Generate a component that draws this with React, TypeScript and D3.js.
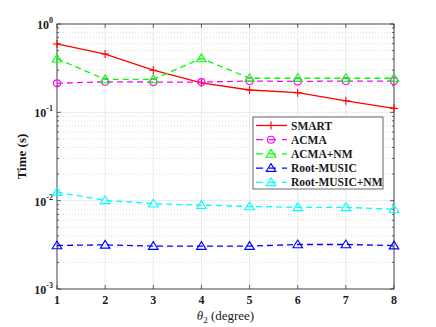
import React, { useEffect, useRef } from "react";
import * as d3 from "d3";

const angles = [1, 2, 3, 4, 5, 6, 7, 8];
const smart = [0.594, 0.457, 0.3, 0.216, 0.179, 0.167, 0.135, 0.111];
const acma = [0.213, 0.222, 0.22, 0.22, 0.226, 0.224, 0.226, 0.226];
const acmaNm = [0.405, 0.236, 0.236, 0.408, 0.243, 0.243, 0.243, 0.243];
const rootMusic = [0.00311, 0.00316, 0.00306, 0.00306, 0.00306, 0.00319, 0.00319, 0.0031];
const rootMusicNm = [0.0125, 0.0101, 0.00923, 0.0089, 0.0086, 0.0084, 0.0084, 0.008];
const seriesNames = ["SMART", "ACMA", "ACMA+NM", "Root-MUSIC", "Root-MUSIC+NM"];
const decades = [-3, -2, -1, 0];

export default function App() {
  const ref = useRef<SVGSVGElement>(null);

  useEffect(() => {
    const width = 436;
    const height = 327;
    const margin = { top: 24, right: 42, bottom: 38, left: 57 };
    const font = "'Liberation Serif', 'Times New Roman', serif";
    const axisColor = "#262626";

    const svg = d3.select(ref.current).attr("viewBox", [0, 0, width, height]);
    svg.selectAll("*").remove();

    const x = d3.scaleLinear()
      .domain([1, 8])
      .range([margin.left, width - margin.right]);
    const y = d3.scaleLog()
      .domain([1e-3, 1])
      .range([height - margin.bottom, margin.top]);

    const [x0, x1] = x.range();
    const [yb, yt] = y.range();

    svg.append("rect").attr("x", x0).attr("y", yt)
      .attr("width", x1 - x0).attr("height", yb - yt).attr("fill", "#fff");

    // minor grid (dotted)
    const minors: number[] = [];
    decades.slice(0, 3).forEach(e => {
      for (let k = 2; k <= 9; k++) minors.push(k * Math.pow(10, e));
    });
    const grid = svg.append("g");
    grid.selectAll(".minor").data(minors).join("line")
      .attr("x1", x0).attr("x2", x1)
      .attr("y1", d => y(d)).attr("y2", d => y(d))
      .attr("stroke", "#c8c8c8").attr("stroke-width", 0.6)
      .attr("stroke-dasharray", "1,2");
    // major grid
    grid.selectAll(".majy").data(decades.map(e => Math.pow(10, e))).join("line")
      .attr("x1", x0).attr("x2", x1)
      .attr("y1", d => y(d)).attr("y2", d => y(d))
      .attr("stroke", "#e3e3e3").attr("stroke-width", 0.8);
    svg.append("g").selectAll("line").data(angles).join("line")
      .attr("x1", d => x(d)).attr("x2", d => x(d))
      .attr("y1", yt).attr("y2", yb)
      .attr("stroke", "#e3e3e3").attr("stroke-width", 0.8);

    // axes box
    svg.append("rect").attr("x", x0).attr("y", yt)
      .attr("width", x1 - x0).attr("height", yb - yt)
      .attr("fill", "none").attr("stroke", axisColor).attr("stroke-width", 0.8);

    const ticks = svg.append("g").attr("stroke", axisColor).attr("stroke-width", 0.7);
    angles.forEach(a => {
      ticks.append("line").attr("x1", x(a)).attr("x2", x(a)).attr("y1", yb).attr("y2", yb - 4);
      ticks.append("line").attr("x1", x(a)).attr("x2", x(a)).attr("y1", yt).attr("y2", yt + 4);
    });
    decades.forEach(e => {
      const v = y(Math.pow(10, e));
      ticks.append("line").attr("x1", x0).attr("x2", x0 + 4).attr("y1", v).attr("y2", v);
      ticks.append("line").attr("x1", x1).attr("x2", x1 - 4).attr("y1", v).attr("y2", v);
    });
    minors.forEach(m => {
      const v = y(m);
      ticks.append("line").attr("x1", x0).attr("x2", x0 + 2).attr("y1", v).attr("y2", v);
      ticks.append("line").attr("x1", x1).attr("x2", x1 - 2).attr("y1", v).attr("y2", v);
    });

    // tick labels
    svg.append("g").selectAll("text").data(angles).join("text")
      .attr("x", d => x(d)).attr("y", yb + 15)
      .attr("text-anchor", "middle")
      .attr("font-family", font).attr("font-weight", "bold").attr("font-size", 12)
      .attr("fill", "#1a1a1a")
      .text(d => d);

    const yl = svg.append("g").selectAll("text").data(decades).join("text")
      .attr("x", x0 - 4).attr("y", d => y(Math.pow(10, d)) + 5)
      .attr("text-anchor", "end")
      .attr("font-family", font).attr("font-weight", "bold").attr("font-size", 12)
      .attr("fill", "#1a1a1a");
    yl.append("tspan").text("10");
    yl.append("tspan").attr("dy", -6).attr("font-size", 8).text(d => (d < 0 ? "-" + (-d) : String(d)));

    // axis labels
    svg.append("text")
      .attr("transform", `translate(26,${(yt + yb) / 2}) rotate(-90)`)
      .attr("text-anchor", "middle")
      .attr("font-family", font).attr("font-weight", "bold").attr("font-size", 13)
      .attr("fill", "#1a1a1a")
      .text("Time (s)");
    const xl = svg.append("text")
      .attr("x", (x0 + x1) / 2).attr("y", height - 7)
      .attr("text-anchor", "middle")
      .attr("font-family", font).attr("font-size", 13)
      .attr("fill", "#1a1a1a");
    xl.append("tspan").attr("font-style", "italic").text("θ");
    xl.append("tspan").attr("dy", 3).attr("font-size", 9).text("2");
    xl.append("tspan").attr("dy", -3).text(" (degree)");

    // series
    const series = [
      { name: seriesNames[0], values: smart, color: "#ff0000", dash: null, marker: "plus" },
      { name: seriesNames[1], values: acma, color: "#ff00ff", dash: "6,4", marker: "circle" },
      { name: seriesNames[2], values: acmaNm, color: "#00ff00", dash: "6,4", marker: "tri" },
      { name: seriesNames[3], values: rootMusic, color: "#0000ff", dash: "6,4", marker: "tri" },
      { name: seriesNames[4], values: rootMusicNm, color: "#00ffff", dash: "6,4", marker: "tri" },
    ];

    const drawMarker = (g: any, kind: string, cx: number, cy: number, color: string) => {
      if (kind === "plus") {
        g.append("path").attr("d", `M${cx - 4},${cy}H${cx + 4}M${cx},${cy - 4}V${cy + 4}`)
          .attr("stroke", color).attr("stroke-width", 1.1).attr("fill", "none");
      } else if (kind === "circle") {
        g.append("circle").attr("cx", cx).attr("cy", cy).attr("r", 3.5)
          .attr("stroke", color).attr("stroke-width", 1.1).attr("fill", "none");
      } else {
        g.append("path").attr("d", `M${cx},${cy - 4.5}L${cx + 4.8},${cy + 3.3}L${cx - 4.8},${cy + 3.3}Z`)
          .attr("stroke", color).attr("stroke-width", 1.1).attr("fill", "none");
      }
    };

    const line = d3.line<number>()
      .x((_, i) => x(angles[i]))
      .y(d => y(d));

    const plot = svg.append("g");
    series.forEach(s => {
      plot.append("path").attr("d", line(s.values))
        .attr("fill", "none").attr("stroke", s.color).attr("stroke-width", 1.3)
        .attr("stroke-dasharray", s.dash);
      s.values.forEach((v, i) => drawMarker(plot, s.marker, x(angles[i]), y(v), s.color));
    });

    // legend
    const lg = svg.append("g");
    const lx = 253, ly = 117, lw = 130, lh = 72;
    lg.append("rect").attr("x", lx).attr("y", ly).attr("width", lw).attr("height", lh)
      .attr("fill", "#fff").attr("stroke", axisColor).attr("stroke-width", 0.7);
    series.forEach((s, i) => {
      const cy = ly + 8.5 + i * 14.2;
      lg.append("line").attr("x1", lx + 3).attr("x2", lx + 34).attr("y1", cy).attr("y2", cy)
        .attr("stroke", s.color).attr("stroke-width", 1.3)
        .attr("stroke-dasharray", s.dash ? "7,6" : null);
      drawMarker(lg, s.marker, lx + 18, cy, s.color);
      lg.append("text").attr("x", lx + 38).attr("y", cy + 4)
        .attr("font-family", font).attr("font-weight", "bold").attr("font-size", 11.5)
        .attr("fill", "#1a1a1a")
        .text(s.name);
    });
  }, []);

  return (
    <svg
      ref={ref}
      width={436}
      height={327}
      style={{ position: "absolute", left: 0, top: 0, background: "#fff" }}
    />
  );
}
